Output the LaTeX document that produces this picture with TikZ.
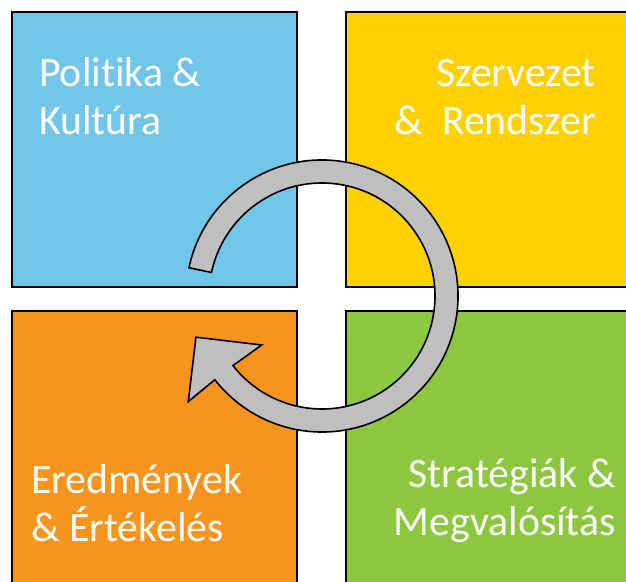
\documentclass[tikz,border=0pt]{standalone}
\usepackage{fontspec}
\setmainfont{Carlito}[Ligatures=NoCommon]
\definecolor{qblue}{HTML}{71C5E8}
\definecolor{qyellow}{HTML}{FFD100}
\definecolor{qorange}{HTML}{F7941D}
\definecolor{qgreen}{HTML}{8DC63F}
\definecolor{qgray}{HTML}{BFBFBF}
\tikzset{
  quad/.style={draw=black, line width=2pt},
  lbl/.style={text=white, inner sep=0pt, font=\fontsize{41.8}{48}\selectfont},
  cyclearrow/.style={fill=qgray, draw=black, line width=1.6pt, line join=miter}
}
\begin{document}
\begin{tikzpicture}[x=1pt,y=1pt]
\clip (0,0) rectangle (626,581);
\fill[white] (0,0) rectangle (626,581);
% quadrants
\draw[quad, fill=qblue]   (12,569) rectangle (297,294);
\draw[quad, fill=qyellow] (346,569) rectangle (640,294);
\draw[quad, fill=qorange] (12,270) rectangle (297,-10);
\draw[quad, fill=qgreen]  (346,270) rectangle (640,-10);
% labels (base anchor = baseline of last line)
\node[lbl, align=left, anchor=base west] (pk) at (39,446) {Politika \&\\Kultúra};
\node[lbl, align=right, anchor=base east] (sr) at (596,446) {Szervezet\\\&\ \ Rendszer};
\node[lbl, align=left, anchor=base west] (ee) at (31,39.3) {Eredmények\\\& Értékelés};
\node[lbl, align=right, anchor=base east] (sm) at (616,46) {Stratégiák \&\\Megvalósítás};
% circular arrow
\coordinate (c) at (322,285);
\begin{scope}[shift={(c)}]
\draw[cyclearrow] (168:136) arc[start angle=168, end angle=-142, radius=136]
  -- (218.3:170.4) -- (198.1:132.6) -- (219.1:77.7) -- (218:113)
  arc[start angle=-142, end angle=168, radius=113] -- cycle;
\end{scope}
\end{tikzpicture}
\end{document}
